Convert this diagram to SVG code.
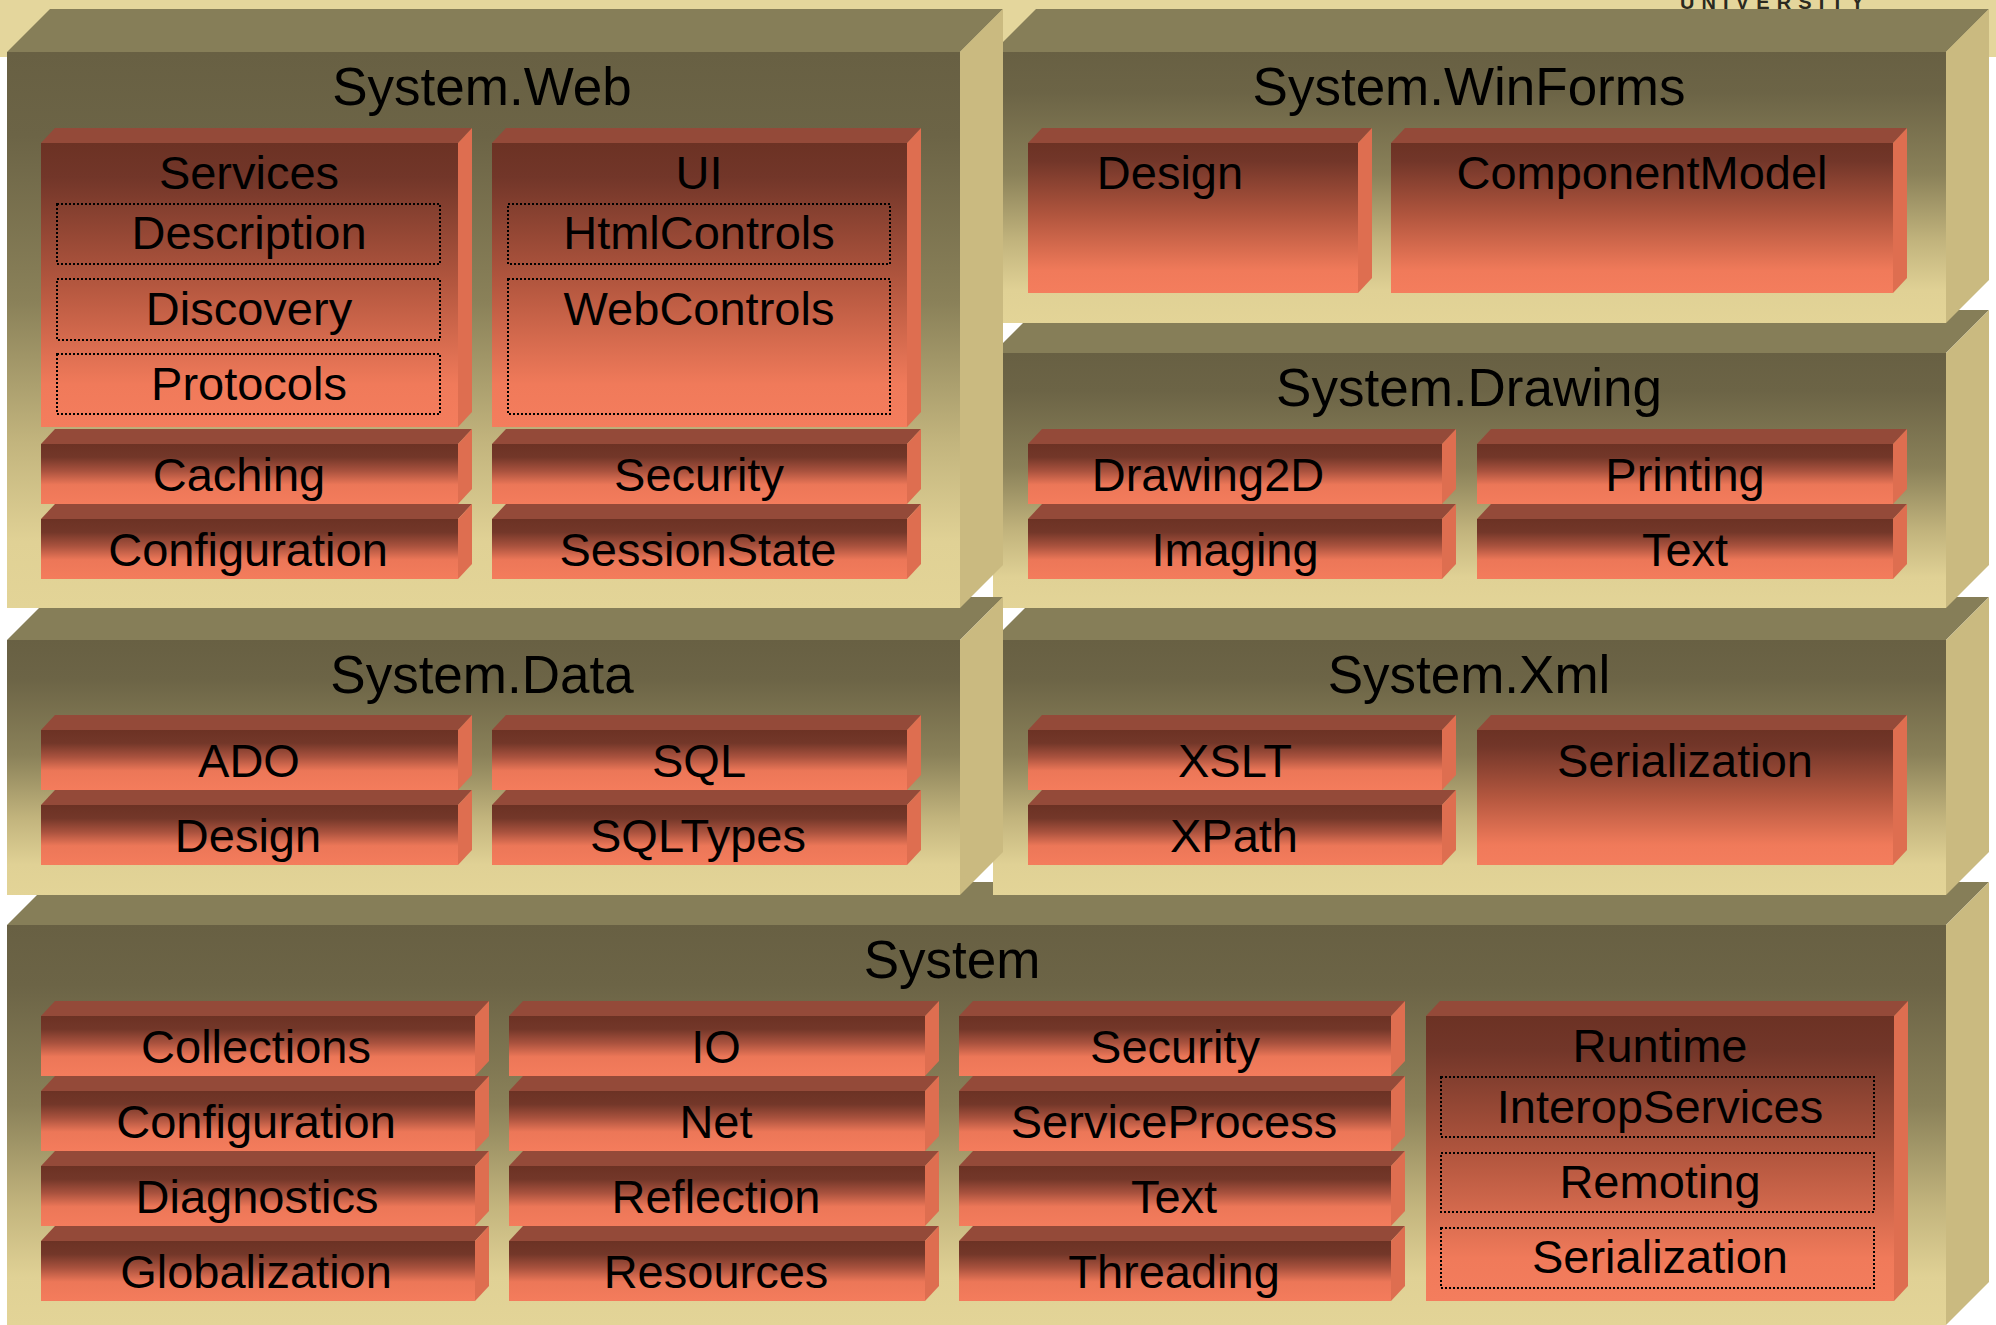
<svg xmlns="http://www.w3.org/2000/svg" width="1996" height="1325" viewBox="0 0 1996 1325">
  <defs>
    <!-- front face of a namespace slab: dark olive at top fading to cream -->
    <linearGradient id="gOuter" x1="0" y1="0" x2="0" y2="1">
      <stop offset="0" stop-color="#686043"/>
      <stop offset="0.15" stop-color="#6C6446"/>
      <stop offset="0.45" stop-color="#8A8159"/>
      <stop offset="0.7" stop-color="#C2B47D"/>
      <stop offset="0.88" stop-color="#E0D195"/>
      <stop offset="1" stop-color="#E3D497"/>
    </linearGradient>
    <!-- front face of a single-row brick -->
    <linearGradient id="gRow" x1="0" y1="0" x2="0" y2="1">
      <stop offset="0" stop-color="#6C3224"/>
      <stop offset="0.22" stop-color="#733729"/>
      <stop offset="0.45" stop-color="#A9523E"/>
      <stop offset="0.68" stop-color="#EC7758"/>
      <stop offset="1" stop-color="#F47C5C"/>
    </linearGradient>
    <!-- front face of a tall brick -->
    <linearGradient id="gTall" x1="0" y1="0" x2="0" y2="1">
      <stop offset="0" stop-color="#6C3224"/>
      <stop offset="0.12" stop-color="#723629"/>
      <stop offset="0.5" stop-color="#B4573F"/>
      <stop offset="0.85" stop-color="#F07A5A"/>
      <stop offset="1" stop-color="#F47D5D"/>
    </linearGradient>
  </defs>
  <style>
    .title { font-family: "Liberation Sans", Arial, sans-serif; font-size: 53px; fill: #000; text-anchor: middle; }
    .lbl { font-family: "Liberation Sans", Arial, sans-serif; font-size: 47px; fill: #000; text-anchor: middle; }
    .otop { fill: #867E58; }
    .oside { fill: #CABA80; }
    .ofront { fill: url(#gOuter); }
    .itop { fill: #944A39; }
    .iside { fill: #DE6E50; }
    .irow { fill: url(#gRow); }
    .itall { fill: url(#gTall); }
    .dot { fill: none; stroke: #000; stroke-width: 2; stroke-dasharray: 2 2; }
  </style>

  <!-- page background with header band -->
  <rect x="0" y="0" width="1996" height="1325" fill="#FFFFFF"/>
  <rect x="0" y="0" width="1996" height="57" fill="#E4D69C"/>
  <text x="1680" y="9" font-family="'Liberation Sans', Arial, sans-serif" font-size="20" font-weight="bold" fill="#2B2A20" textLength="184" lengthAdjust="spacing">UNIVERSITY</text>

  <!-- System (bottom slab) -->
  <g id="system">
    <polygon class="otop" points="7,925 50,882 1989,882 1946,925"/>
    <polygon class="oside" points="1946,925 1989,882 1989,1282 1946,1325"/>
    <rect class="ofront" x="7" y="925" width="1939" height="400"/>
    <text class="title" x="952" y="978">System</text>

    <g id="sys-collections">
      <polygon class="itop" points="41,1016 55,1001 489,1001 475,1016"/>
      <polygon class="iside" points="475,1016 489,1001 489,1061 475,1076"/>
      <rect class="irow" x="41" y="1016" width="434" height="60"/>
      <text class="lbl" x="256" y="1063">Collections</text>
    </g>
    <g id="sys-configuration">
      <polygon class="itop" points="41,1091 55,1076 489,1076 475,1091"/>
      <polygon class="iside" points="475,1091 489,1076 489,1136 475,1151"/>
      <rect class="irow" x="41" y="1091" width="434" height="60"/>
      <text class="lbl" x="256" y="1138">Configuration</text>
    </g>
    <g id="sys-diagnostics">
      <polygon class="itop" points="41,1166 55,1151 489,1151 475,1166"/>
      <polygon class="iside" points="475,1166 489,1151 489,1211 475,1226"/>
      <rect class="irow" x="41" y="1166" width="434" height="60"/>
      <text class="lbl" x="257" y="1213">Diagnostics</text>
    </g>
    <g id="sys-globalization">
      <polygon class="itop" points="41,1241 55,1226 489,1226 475,1241"/>
      <polygon class="iside" points="475,1241 489,1226 489,1286 475,1301"/>
      <rect class="irow" x="41" y="1241" width="434" height="60"/>
      <text class="lbl" x="256" y="1288">Globalization</text>
    </g>

    <g id="sys-io">
      <polygon class="itop" points="509,1016 523,1001 939,1001 925,1016"/>
      <polygon class="iside" points="925,1016 939,1001 939,1061 925,1076"/>
      <rect class="irow" x="509" y="1016" width="416" height="60"/>
      <text class="lbl" x="716" y="1063">IO</text>
    </g>
    <g id="sys-net">
      <polygon class="itop" points="509,1091 523,1076 939,1076 925,1091"/>
      <polygon class="iside" points="925,1091 939,1076 939,1136 925,1151"/>
      <rect class="irow" x="509" y="1091" width="416" height="60"/>
      <text class="lbl" x="716" y="1138">Net</text>
    </g>
    <g id="sys-reflection">
      <polygon class="itop" points="509,1166 523,1151 939,1151 925,1166"/>
      <polygon class="iside" points="925,1166 939,1151 939,1211 925,1226"/>
      <rect class="irow" x="509" y="1166" width="416" height="60"/>
      <text class="lbl" x="716" y="1213">Reflection</text>
    </g>
    <g id="sys-resources">
      <polygon class="itop" points="509,1241 523,1226 939,1226 925,1241"/>
      <polygon class="iside" points="925,1241 939,1226 939,1286 925,1301"/>
      <rect class="irow" x="509" y="1241" width="416" height="60"/>
      <text class="lbl" x="716" y="1288">Resources</text>
    </g>

    <g id="sys-security">
      <polygon class="itop" points="959,1016 973,1001 1405,1001 1391,1016"/>
      <polygon class="iside" points="1391,1016 1405,1001 1405,1061 1391,1076"/>
      <rect class="irow" x="959" y="1016" width="432" height="60"/>
      <text class="lbl" x="1175" y="1063">Security</text>
    </g>
    <g id="sys-serviceprocess">
      <polygon class="itop" points="959,1091 973,1076 1405,1076 1391,1091"/>
      <polygon class="iside" points="1391,1091 1405,1076 1405,1136 1391,1151"/>
      <rect class="irow" x="959" y="1091" width="432" height="60"/>
      <text class="lbl" x="1174" y="1138">ServiceProcess</text>
    </g>
    <g id="sys-text">
      <polygon class="itop" points="959,1166 973,1151 1405,1151 1391,1166"/>
      <polygon class="iside" points="1391,1166 1405,1151 1405,1211 1391,1226"/>
      <rect class="irow" x="959" y="1166" width="432" height="60"/>
      <text class="lbl" x="1174" y="1213">Text</text>
    </g>
    <g id="sys-threading">
      <polygon class="itop" points="959,1241 973,1226 1405,1226 1391,1241"/>
      <polygon class="iside" points="1391,1241 1405,1226 1405,1286 1391,1301"/>
      <rect class="irow" x="959" y="1241" width="432" height="60"/>
      <text class="lbl" x="1174" y="1288">Threading</text>
    </g>

    <g id="sys-runtime">
      <polygon class="itop" points="1426,1016 1440,1001 1908,1001 1894,1016"/>
      <polygon class="iside" points="1894,1016 1908,1001 1908,1286 1894,1301"/>
      <rect class="itall" x="1426" y="1016" width="468" height="285"/>
      <text class="lbl" x="1660" y="1062">Runtime</text>
      <rect class="dot" x="1441" y="1077" width="433" height="60"/>
      <text class="lbl" x="1660" y="1123">InteropServices</text>
      <rect class="dot" x="1441" y="1153" width="433" height="59"/>
      <text class="lbl" x="1660" y="1198">Remoting</text>
      <rect class="dot" x="1441" y="1228" width="433" height="60"/>
      <text class="lbl" x="1660" y="1273">Serialization</text>
    </g>
  </g>

  <!-- System.Xml -->
  <g id="system-xml">
    <polygon class="otop" points="993,640 1036,597 1989,597 1946,640"/>
    <polygon class="oside" points="1946,640 1989,597 1989,852 1946,895"/>
    <rect class="ofront" x="993" y="640" width="953" height="255"/>
    <text class="title" x="1469" y="693">System.Xml</text>
    <g id="xml-xslt">
      <polygon class="itop" points="1028,730 1042,715 1456,715 1442,730"/>
      <polygon class="iside" points="1442,730 1456,715 1456,775 1442,790"/>
      <rect class="irow" x="1028" y="730" width="414" height="60"/>
      <text class="lbl" x="1235" y="777">XSLT</text>
    </g>
    <g id="xml-xpath">
      <polygon class="itop" points="1028,805 1042,790 1456,790 1442,805"/>
      <polygon class="iside" points="1442,805 1456,790 1456,850 1442,865"/>
      <rect class="irow" x="1028" y="805" width="414" height="60"/>
      <text class="lbl" x="1234" y="852">XPath</text>
    </g>
    <g id="xml-serialization">
      <polygon class="itop" points="1477,730 1491,715 1907,715 1893,730"/>
      <polygon class="iside" points="1893,730 1907,715 1907,850 1893,865"/>
      <rect class="itall" x="1477" y="730" width="416" height="135"/>
      <text class="lbl" x="1685" y="777">Serialization</text>
    </g>
  </g>

  <!-- System.Drawing -->
  <g id="system-drawing">
    <polygon class="otop" points="993,353 1036,310 1989,310 1946,353"/>
    <polygon class="oside" points="1946,353 1989,310 1989,565 1946,608"/>
    <rect class="ofront" x="993" y="353" width="953" height="255"/>
    <text class="title" x="1469" y="406">System.Drawing</text>
    <g id="drw-drawing2d">
      <polygon class="itop" points="1028,444 1042,429 1456,429 1442,444"/>
      <polygon class="iside" points="1442,444 1456,429 1456,489 1442,504"/>
      <rect class="irow" x="1028" y="444" width="414" height="60"/>
      <text class="lbl" x="1208" y="491">Drawing2D</text>
    </g>
    <g id="drw-imaging">
      <polygon class="itop" points="1028,519 1042,504 1456,504 1442,519"/>
      <polygon class="iside" points="1442,519 1456,504 1456,564 1442,579"/>
      <rect class="irow" x="1028" y="519" width="414" height="60"/>
      <text class="lbl" x="1235" y="566">Imaging</text>
    </g>
    <g id="drw-printing">
      <polygon class="itop" points="1477,444 1491,429 1907,429 1893,444"/>
      <polygon class="iside" points="1893,444 1907,429 1907,489 1893,504"/>
      <rect class="irow" x="1477" y="444" width="416" height="60"/>
      <text class="lbl" x="1685" y="491">Printing</text>
    </g>
    <g id="drw-text">
      <polygon class="itop" points="1477,519 1491,504 1907,504 1893,519"/>
      <polygon class="iside" points="1893,519 1907,504 1907,564 1893,579"/>
      <rect class="irow" x="1477" y="519" width="416" height="60"/>
      <text class="lbl" x="1685" y="566">Text</text>
    </g>
  </g>

  <!-- System.WinForms -->
  <g id="system-winforms">
    <polygon class="otop" points="993,52 1036,9 1989,9 1946,52"/>
    <polygon class="oside" points="1946,52 1989,9 1989,280 1946,323"/>
    <rect class="ofront" x="993" y="52" width="953" height="271"/>
    <text class="title" x="1469" y="105">System.WinForms</text>
    <g id="wf-design">
      <polygon class="itop" points="1028,143 1042,128 1372,128 1358,143"/>
      <polygon class="iside" points="1358,143 1372,128 1372,278 1358,293"/>
      <rect class="itall" x="1028" y="143" width="330" height="150"/>
      <text class="lbl" x="1170" y="189">Design</text>
    </g>
    <g id="wf-componentmodel">
      <polygon class="itop" points="1391,143 1405,128 1907,128 1893,143"/>
      <polygon class="iside" points="1893,143 1907,128 1907,278 1893,293"/>
      <rect class="itall" x="1391" y="143" width="502" height="150"/>
      <text class="lbl" x="1642" y="189">ComponentModel</text>
    </g>
  </g>

  <!-- System.Data -->
  <g id="system-data">
    <polygon class="otop" points="7,640 50,597 1003,597 960,640"/>
    <polygon class="oside" points="960,640 1003,597 1003,852 960,895"/>
    <rect class="ofront" x="7" y="640" width="953" height="255"/>
    <text class="title" x="482" y="693">System.Data</text>
    <g id="data-ado">
      <polygon class="itop" points="41,730 55,715 472,715 458,730"/>
      <polygon class="iside" points="458,730 472,715 472,775 458,790"/>
      <rect class="irow" x="41" y="730" width="417" height="60"/>
      <text class="lbl" x="249" y="777">ADO</text>
    </g>
    <g id="data-design">
      <polygon class="itop" points="41,805 55,790 472,790 458,805"/>
      <polygon class="iside" points="458,805 472,790 472,850 458,865"/>
      <rect class="irow" x="41" y="805" width="417" height="60"/>
      <text class="lbl" x="248" y="852">Design</text>
    </g>
    <g id="data-sql">
      <polygon class="itop" points="492,730 506,715 921,715 907,730"/>
      <polygon class="iside" points="907,730 921,715 921,775 907,790"/>
      <rect class="irow" x="492" y="730" width="415" height="60"/>
      <text class="lbl" x="699" y="777">SQL</text>
    </g>
    <g id="data-sqltypes">
      <polygon class="itop" points="492,805 506,790 921,790 907,805"/>
      <polygon class="iside" points="907,805 921,790 921,850 907,865"/>
      <rect class="irow" x="492" y="805" width="415" height="60"/>
      <text class="lbl" x="698" y="852">SQLTypes</text>
    </g>
  </g>

  <!-- System.Web -->
  <g id="system-web">
    <polygon class="otop" points="7,52 50,9 1003,9 960,52"/>
    <polygon class="oside" points="960,52 1003,9 1003,565 960,608"/>
    <rect class="ofront" x="7" y="52" width="953" height="556"/>
    <text class="title" x="482" y="105">System.Web</text>
    <g id="web-services">
      <polygon class="itop" points="41,143 55,128 472,128 458,143"/>
      <polygon class="iside" points="458,143 472,128 472,412 458,427"/>
      <rect class="itall" x="41" y="143" width="417" height="284"/>
      <text class="lbl" x="249" y="189">Services</text>
      <rect class="dot" x="57" y="204" width="383" height="60"/>
      <text class="lbl" x="249" y="249">Description</text>
      <rect class="dot" x="57" y="279" width="383" height="61"/>
      <text class="lbl" x="249" y="325">Discovery</text>
      <rect class="dot" x="57" y="354" width="383" height="60"/>
      <text class="lbl" x="249" y="400">Protocols</text>
    </g>
    <g id="web-ui">
      <polygon class="itop" points="492,143 506,128 921,128 907,143"/>
      <polygon class="iside" points="907,143 921,128 921,412 907,427"/>
      <rect class="itall" x="492" y="143" width="415" height="284"/>
      <text class="lbl" x="699" y="189">UI</text>
      <rect class="dot" x="508" y="204" width="382" height="60"/>
      <text class="lbl" x="699" y="249">HtmlControls</text>
      <rect class="dot" x="508" y="279" width="382" height="135"/>
      <text class="lbl" x="699" y="325">WebControls</text>
    </g>
    <g id="web-caching">
      <polygon class="itop" points="41,444 55,429 472,429 458,444"/>
      <polygon class="iside" points="458,444 472,429 472,489 458,504"/>
      <rect class="irow" x="41" y="444" width="417" height="60"/>
      <text class="lbl" x="239" y="491">Caching</text>
    </g>
    <g id="web-configuration">
      <polygon class="itop" points="41,519 55,504 472,504 458,519"/>
      <polygon class="iside" points="458,519 472,504 472,564 458,579"/>
      <rect class="irow" x="41" y="519" width="417" height="60"/>
      <text class="lbl" x="248" y="566">Configuration</text>
    </g>
    <g id="web-security">
      <polygon class="itop" points="492,444 506,429 921,429 907,444"/>
      <polygon class="iside" points="907,444 921,429 921,489 907,504"/>
      <rect class="irow" x="492" y="444" width="415" height="60"/>
      <text class="lbl" x="699" y="491">Security</text>
    </g>
    <g id="web-sessionstate">
      <polygon class="itop" points="492,519 506,504 921,504 907,519"/>
      <polygon class="iside" points="907,519 921,504 921,564 907,579"/>
      <rect class="irow" x="492" y="519" width="415" height="60"/>
      <text class="lbl" x="698" y="566">SessionState</text>
    </g>
  </g>
</svg>
